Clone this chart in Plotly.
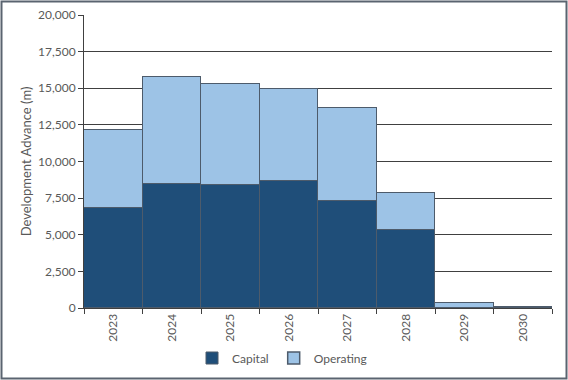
import plotly.graph_objects as go

years = ["2023", "2024", "2025", "2026", "2027", "2028", "2029", "2030"]
capital = [6850, 8480, 8400, 8650, 7320, 5330, 0, 0]
operating = [5300, 7300, 6900, 6300, 6330, 2550, 340, 40]
y_ticks = [0, 2500, 5000, 7500, 10000, 12500, 15000, 17500, 20000]

W, H = 568, 380
L, R, T, B = 84, 16, 15, 72
pw, ph = W - L - R, H - T - B

edge = "#4d5b6b"
fig = go.Figure()
fig.add_trace(go.Bar(x=years, y=capital, name="Capital", marker=dict(color="#1f4e79", line=dict(color=edge, width=1))))
fig.add_trace(go.Bar(x=years, y=operating, name="Operating", marker=dict(color="#9dc3e6", line=dict(color=edge, width=1.5))))

fig.update_layout(
    width=W, height=H, barmode="stack", bargap=0,
    margin=dict(l=L, r=R, t=T, b=B, autoexpand=False),
    paper_bgcolor="white", plot_bgcolor="white",
    font=dict(family="Lato, Open Sans, sans-serif", size=12, color="#595959"),
    showlegend=True,
    legend=dict(orientation="h", x=(282 - L) / pw, xanchor="center", y=(308 - 358) / ph, yanchor="middle",
                font=dict(size=12, color="#595959"), itemwidth=30, traceorder="normal", tracegroupgap=0),
    xaxis=dict(type="category", tickangle=-90, ticks="outside", tickson="boundaries", ticklen=5,
               tickcolor="#404040", showline=True, linecolor="#404040", linewidth=1, showgrid=False,
               tickfont=dict(size=12)),
    yaxis=dict(range=[0, 20000], tickvals=y_ticks, ticktext=[f"{v:,}" for v in y_ticks],
               ticks="outside", ticklen=5, tickcolor="#404040", showline=True, linecolor="#404040",
               showgrid=True, gridcolor="#404040", gridwidth=1, zeroline=False,
               title=dict(text="Development Advance (m)", font=dict(size=13, color="#595959"), standoff=3),
               tickfont=dict(size=12)),
    shapes=[dict(type="rect", xref="paper", yref="paper",
                 x0=(1.5 - L) / pw, x1=(W - 1.5 - L) / pw,
                 y0=(308 - (H - 1.5)) / ph, y1=(308 - 1.5) / ph,
                 line=dict(color="#5a6470", width=2), layer="above")],
)

fig.write_html("out.html", config={"displayModeBar": False},
               post_script="document.body.style.margin='0';document.body.style.padding='0';")
